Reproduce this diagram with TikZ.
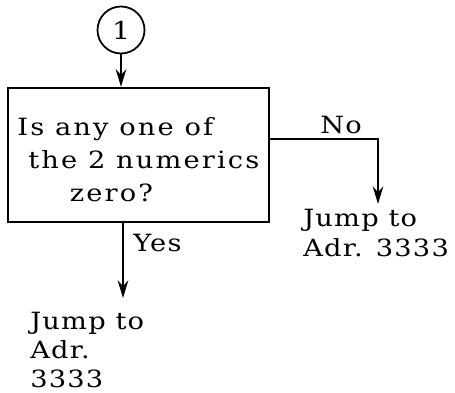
\documentclass[tikz,border=0pt]{standalone}
\usepackage{fontspec}
\setmainfont[FakeStretch=1.15,LetterSpace=5]{DejaVu Serif}
\newfontfamily\boxfont[FakeStretch=1.15,LetterSpace=9]{DejaVu Serif}
\usetikzlibrary{arrows.meta}
\tikzset{
  flow/.style={line width=1pt,-{Stealth[length=10pt,width=6pt]}},
  txt/.style={font=\fontsize{13.5}{17}\selectfont,inner sep=0pt,align=left}
}
\begin{document}
\begin{tikzpicture}[x=0.02cm,y=-0.02cm]
\useasboundingbox (0,0) rectangle (455,392);
\node[draw,circle,line width=1pt,minimum size=0.94cm,inner sep=0pt,font=\fontsize{14}{17}\selectfont] (conn) at (121,30) {1};
\node[draw,line width=1.4pt,minimum width=5.22cm,minimum height=2.68cm,inner sep=0pt] (test) at (138.5,155) {};
\node[txt,anchor=west,font=\boxfont\fontsize{13.5}{18.7}\selectfont] (q) at (17,160) {Is any one of\\\hspace{0.22cm}the 2 numerics\\\hspace{1.05cm}zero?};
\draw[flow] (conn.south) -- (conn.south |- test.north);
% no branch
\coordinate (nocorner) at (378,139);
\draw[flow] (test.east |- nocorner) -- (nocorner) -- (378,204);
\node[txt] (no) at (341,125) {No};
\node[txt,anchor=west] (jumpno) at (303,233) {Jump to\\Adr. 3333};
% yes branch
\coordinate (yesend) at (123,298);
\draw[flow] (yesend |- test.south) -- (yesend);
\node[txt,anchor=west] (yes) at (133,243) {Yes};
\node[txt,anchor=north west,font=\fontsize{13.5}{16.5}\selectfont] (jumpyes) at (30,312) {Jump to\\Adr.\\3333};
\end{tikzpicture}
\end{document}
